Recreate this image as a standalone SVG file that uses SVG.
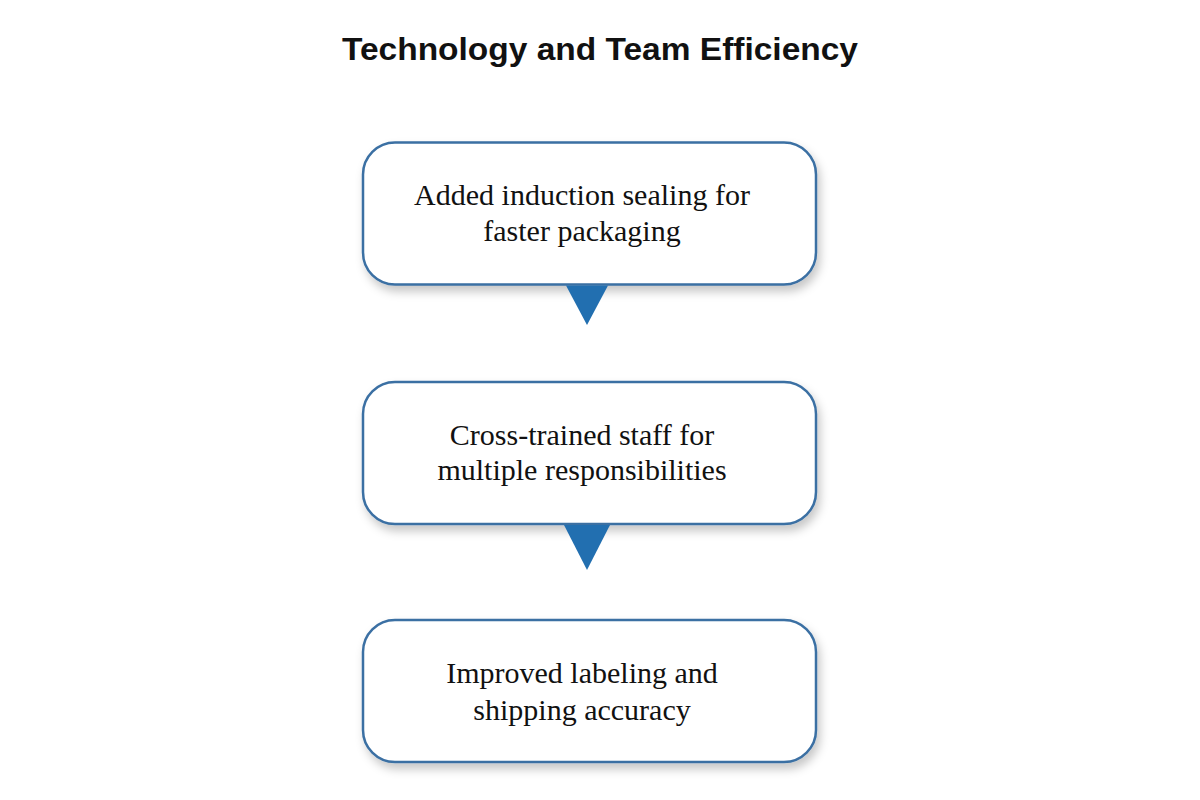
<svg xmlns="http://www.w3.org/2000/svg" width="1200" height="800" viewBox="0 0 1200 800">
<style>
.title{font-family:"Liberation Sans","DejaVu Sans",Arial,sans-serif;font-weight:bold;font-size:31px;fill:#111;}
.box{fill:#ffffff;stroke:#3b6fa3;stroke-width:2.5;filter:url(#sh);}
.lbl{font-family:"Liberation Serif","Times New Roman",serif;font-size:30px;fill:#111;text-anchor:middle;}
.tri{fill:#226fb0;}
</style>
<defs>
<filter id="sh" x="-10%" y="-20%" width="125%" height="150%">
<feDropShadow dx="3" dy="6" stdDeviation="5" flood-color="#000" flood-opacity="0.22"/>
</filter>
</defs>
<rect width="1200" height="800" fill="#ffffff"/>
<text class="title" x="600" y="60" text-anchor="middle" textLength="516" lengthAdjust="spacingAndGlyphs">Technology and Team Efficiency</text>
<g id="node1">
<rect class="box" x="363" y="142.5" width="453" height="142" rx="32" ry="32"/>
<text class="lbl" x="582" y="205">Added induction sealing for</text>
<text class="lbl" x="582" y="241">faster packaging</text>
</g>
<g id="node2">
<rect class="box" x="363" y="382" width="453" height="142" rx="32" ry="32"/>
<text class="lbl" x="582" y="445">Cross-trained staff for</text>
<text class="lbl" x="582" y="480">multiple responsibilities</text>
</g>
<g id="node3">
<rect class="box" x="363" y="620" width="453" height="142" rx="32" ry="32"/>
<text class="lbl" x="582" y="683">Improved labeling and</text>
<text class="lbl" x="582" y="720">shipping accuracy</text>
</g>
<g id="connectors">
<polygon class="tri" points="566,285.5 608,285.5 587,325"/>
<polygon class="tri" points="564,525 610,525 587,570"/>
</g>
</svg>
